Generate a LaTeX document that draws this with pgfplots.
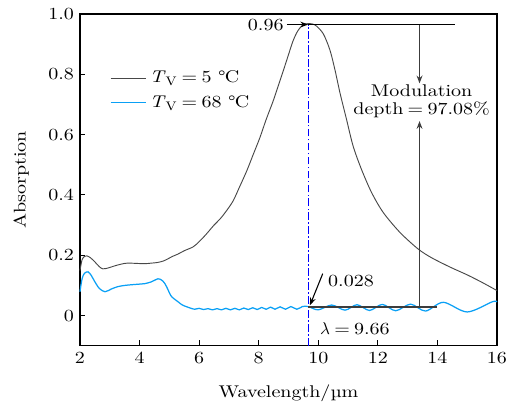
\documentclass[11pt,border=0pt]{standalone}
\usepackage{fontspec}
\setmainfont{lmroman10-regular.otf}[ItalicFont=lmroman10-italic.otf, BoldFont=lmroman10-bold.otf, FakeStretch=1.18]
\usepackage{pgfplots}
\pgfplotsset{compat=1.18}
\usetikzlibrary{arrows.meta}
\definecolor{greyc}{RGB}{72,72,72}
\definecolor{bluec}{RGB}{10,160,245}
\definecolor{annot}{RGB}{60,60,60}
\begin{document}
\begin{tikzpicture}
\begin{axis}[
  width=269pt, height=214pt, scale only axis,
  xmin=2, xmax=16, ymin=-0.1, ymax=1.0,
  xtick={2,4,...,16}, xticklabels={2,4,6,8,10,12,14,16},
  ytick={0,0.2,0.4,0.6,0.8,1.0}, yticklabels={0,0.2,0.4,0.6,0.8,1.0},
  xtick pos=lower, ytick pos=left, tick align=inside,
  major tick length=3.5pt,
  axis line style={line width=0.7pt},
  every tick/.style={black, line width=0.7pt},
  xlabel={Wavelength/µm}, ylabel={Absorption},
  xlabel style={yshift=-6pt},
  ylabel style={yshift=5pt},
  clip=false,
  legend cell align=left,
  legend style={draw=none, fill=none, at={(0.06,0.848)}, anchor=north west, row sep=2.5pt, font=\normalsize},
]
\addlegendimage{greyc, line width=0.6pt, legend image code/.code={\draw[greyc, line width=0.6pt] (0cm,0cm) -- (0.8cm,0cm);}}
\addlegendentry{\textit{T}\textsubscript{V}\kern0.25em=\kern0.25em5 {\textdegree}\kern-0.05emC}
\addlegendimage{bluec, line width=0.8pt, legend image code/.code={\draw[bluec, line width=0.8pt] (0cm,0cm) -- (0.8cm,0cm);}}
\addlegendentry{\textit{T}\textsubscript{V}\kern0.25em=\kern0.25em68 {\textdegree}\kern-0.05emC}
\addplot[greyc, line width=0.6pt, smooth, tension=0.5, forget plot] coordinates {
(2.00,0.149) (2.07,0.185) (2.15,0.196) (2.23,0.198) (2.35,0.192) (2.50,0.178)
(2.65,0.162) (2.77,0.155) (2.95,0.158) (3.17,0.165) (3.40,0.171) (3.60,0.174)
(3.90,0.173) (4.18,0.172) (4.40,0.174) (4.60,0.176) (4.80,0.181) (4.95,0.188)
(5.10,0.196) (5.29,0.204) (5.50,0.215) (5.80,0.228) (6.00,0.245) (6.24,0.270)
(6.50,0.300) (6.70,0.320) (6.90,0.345) (7.14,0.380) (7.35,0.425) (7.60,0.480)
(7.80,0.530) (8.04,0.590) (8.25,0.650) (8.48,0.710) (8.65,0.760) (8.82,0.810)
(9.00,0.865) (9.15,0.910) (9.30,0.942) (9.44,0.960) (9.56,0.967) (9.66,0.968)
(9.80,0.967) (9.94,0.960) (10.17,0.934) (10.39,0.881) (10.56,0.815) (10.73,0.738)
(10.95,0.650) (11.17,0.562) (11.45,0.485) (11.79,0.408) (12.18,0.342) (12.74,0.276)
(13.35,0.221) (13.80,0.192) (14.42,0.161) (15.00,0.135) (15.50,0.110) (16.00,0.083)
};
\addplot[bluec, line width=0.8pt, smooth, tension=0.5, forget plot] coordinates {
(2.00,0.079) (2.07,0.122) (2.15,0.140) (2.27,0.145) (2.38,0.133) (2.50,0.112)
(2.65,0.090) (2.84,0.079) (3.05,0.088) (3.27,0.096) (3.50,0.100) (3.70,0.102)
(3.95,0.104) (4.18,0.106) (4.40,0.112) (4.62,0.122) (4.75,0.117) (4.85,0.106)
(4.95,0.087) (5.05,0.066) (5.18,0.054) (5.29,0.046) (5.42,0.036) (5.56,0.030)
(5.70,0.025) (5.85,0.021) (6.00,0.024) (6.15,0.020) (6.30,0.023) (6.45,0.019)
(6.60,0.023) (6.75,0.019) (6.90,0.024) (7.05,0.019) (7.20,0.024) (7.35,0.019)
(7.50,0.025) (7.65,0.020) (7.80,0.026) (7.95,0.020) (8.10,0.027) (8.25,0.021)
(8.40,0.028) (8.55,0.021) (8.72,0.029) (8.90,0.021) (9.08,0.030) (9.28,0.021)
(9.47,0.030) (9.66,0.030) (10.00,0.019) (10.45,0.035) (10.90,0.018) (11.30,0.036)
(11.72,0.017) (12.15,0.037) (12.60,0.016) (13.10,0.038) (13.60,0.015) (14.20,0.044)
(15.00,0.012) (15.85,0.046) (16.00,0.045)
};
\addplot[blue, line width=0.8pt, dash pattern=on 5pt off 1.5pt on 1pt off 1.5pt, forget plot] coordinates {(9.66,-0.1) (9.66,0.965)};
% annotations
\draw[black, line width=0.8pt, -{Stealth[length=5pt]}] (axis cs:8.95,0.965) -- (axis cs:9.66,0.965);
\node[anchor=east, inner sep=2pt] at (axis cs:8.95,0.965) {0.96};
\draw[black, line width=0.8pt] (axis cs:9.66,0.965) -- (axis cs:14.58,0.965);
\draw[annot, line width=1pt, -{Stealth[length=5pt]}] (axis cs:13.4,0.965) -- (axis cs:13.4,0.77);
\node[align=center, inner sep=0pt] at (axis cs:13.47,0.71) {Modulation\\[-2pt]depth\kern0.25em=\kern0.25em97.08\%};
\draw[annot, line width=1pt, -{Stealth[length=5pt]}] (axis cs:13.4,0.028) -- (axis cs:13.4,0.645);
\draw[annot, line width=0.9pt] (axis cs:9.66,0.028) -- (axis cs:14.0,0.028);
\draw[black, line width=0.7pt, -{Stealth[length=5pt]}] (axis cs:10.15,0.139) -- (axis cs:9.72,0.034);
\node at (axis cs:11.1,0.115) {0.028};
\node at (axis cs:11.23,-0.043) {$\lambda$\kern0.25em=\kern0.25em9.66};
\path (rel axis cs:-0.1918,-0.1777) rectangle (rel axis cs:1.0384,1.0422);
\end{axis}
\end{tikzpicture}
\end{document}
